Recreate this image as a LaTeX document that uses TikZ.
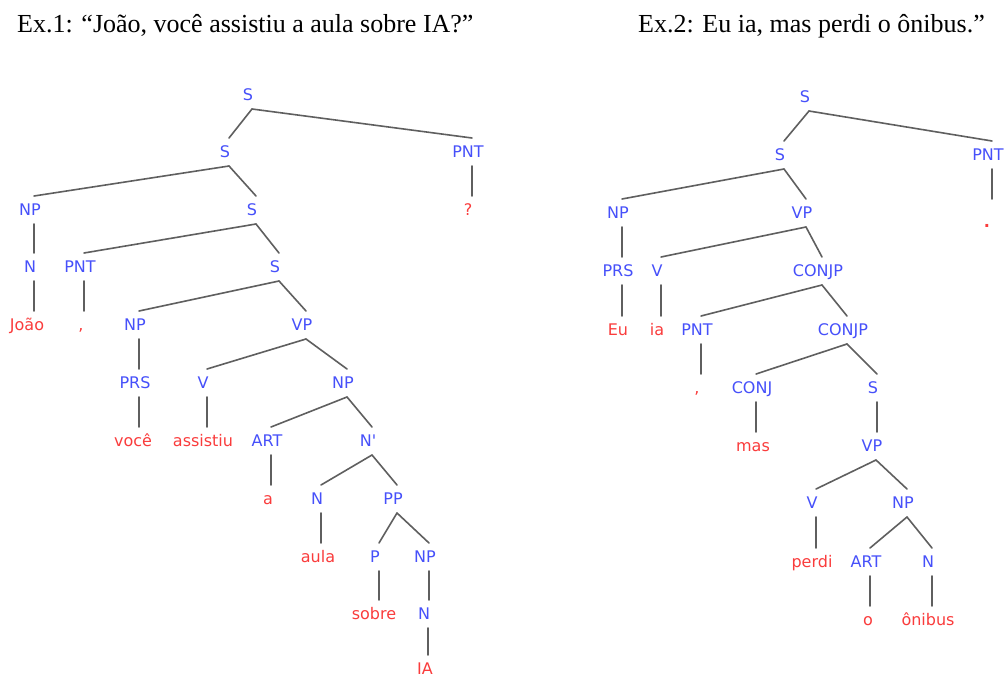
\documentclass[tikz,border=0pt]{standalone}
\usepackage{fontspec}
\setmainfont{Liberation Serif}
\newfontfamily\labfont{DejaVu Sans}
\definecolor{labblue}{RGB}{70,80,250}
\definecolor{leafred}{RGB}{250,60,60}
\definecolor{edgegray}{RGB}{95,95,95}
\tikzset{
  lab/.style={font=\labfont\fontsize{16}{18}\selectfont, inner sep=0pt, text height=11.5pt, text depth=0pt},
  cat/.style={lab, text=labblue},
  leaf/.style={lab, text=leafred},
  edge/.style={draw=edgegray, line width=1.6pt, line cap=round},
  title/.style={font=\fontsize{26}{30}\selectfont, anchor=base west, inner sep=0pt}
}
% diagonal edge
\newcommand\tedge[2]{\draw[edge] ([shift={(4,14)}]#1.center) -- ([shift={(4,-14)}]#2.center);}
% vertical edge (single child)
\newcommand\vedge[2]{\draw[edge] ([shift={(4,14)}]#1.center) -- ([shift={(4,-14)}]#1.center |- #2.center);}
\begin{document}
\begin{tikzpicture}[x=1pt,y=-1pt]
\useasboundingbox[fill=white] (0,0) rectangle (1008,677);
% titles
\node[title] (t1) at (17,33) {Ex.1: “João, você assistiu a aula sobre IA?”};
\node[title] (t2) at (638,33) {Ex.2: Eu ia, mas perdi o ônibus.”};
% ---------- tree 1 ----------
\node[cat] (aS) at (248,95) {S};
\node[cat] (aS1) at (225,152) {S};
\node[cat] (aPNT) at (468,152) {PNT};
\node[cat] (aNP) at (30,210) {NP};
\node[cat] (aS2) at (252,210) {S};
\node[leaf] (aQ) at (468,210) {?};
\node[cat] (aN) at (30,267) {N};
\node[cat] (aPNT2) at (80,267) {PNT};
\node[cat] (aS3) at (275,267) {S};
\node[leaf] (aJoao) at (27,325) {João};
\node[leaf] (aComma) at (81,325) {,};
\node[cat] (aNP2) at (135,325) {NP};
\node[cat] (aVP) at (302,325) {VP};
\node[cat] (aPRS) at (135,383) {PRS};
\node[cat] (aV) at (203,383) {V};
\node[cat] (aNP3) at (343,383) {NP};
\node[leaf] (aVoce) at (133,441) {você};
\node[leaf] (aAssistiu) at (203,441) {assistiu};
\node[cat] (aART) at (267,441) {ART};
\node[cat] (aNbar) at (368,441) {N'};
\node[leaf] (aA) at (268,499) {a};
\node[cat] (aN2) at (317,499) {N};
\node[cat] (aPP) at (393,499) {PP};
\node[leaf] (aAula) at (318,557) {aula};
\node[cat] (aP) at (375,557) {P};
\node[cat] (aNP4) at (425,557) {NP};
\node[leaf] (aSobre) at (374,614) {sobre};
\node[cat] (aN3) at (424,614) {N};
\node[leaf] (aIA) at (425,669) {IA};
\tedge{aS}{aS1} \tedge{aS}{aPNT}
\tedge{aS1}{aNP} \tedge{aS1}{aS2}
\vedge{aPNT}{aQ}
\vedge{aNP}{aN} \vedge{aN}{aJoao}
\tedge{aS2}{aPNT2} \tedge{aS2}{aS3}
\vedge{aPNT2}{aComma}
\tedge{aS3}{aNP2} \tedge{aS3}{aVP}
\vedge{aNP2}{aPRS} \vedge{aPRS}{aVoce}
\tedge{aVP}{aV} \tedge{aVP}{aNP3}
\vedge{aV}{aAssistiu}
\tedge{aNP3}{aART} \tedge{aNP3}{aNbar}
\vedge{aART}{aA}
\tedge{aNbar}{aN2} \tedge{aNbar}{aPP}
\vedge{aN2}{aAula}
\tedge{aPP}{aP} \tedge{aPP}{aNP4}
\vedge{aP}{aSobre}
\vedge{aNP4}{aN3} \vedge{aN3}{aIA}
% ---------- tree 2 ----------
\node[cat] (bS) at (805,97) {S};
\node[cat] (bS1) at (780,155) {S};
\node[cat] (bPNT) at (988,155) {PNT};
\node[cat] (bNP) at (618,213) {NP};
\node[cat] (bVP) at (802,213) {VP};
\node[leaf] (bDot) at (987,213) {\raisebox{-9pt}{\bfseries .}};
\node[cat] (bPRS) at (618,271) {PRS};
\node[cat] (bV) at (657,271) {V};
\node[cat] (bCONJP) at (818,271) {CONJP};
\node[leaf] (bEu) at (618,330) {Eu};
\node[leaf] (bIa) at (657,330) {ia};
\node[cat] (bPNT2) at (697,330) {PNT};
\node[cat] (bCONJP2) at (843,330) {CONJP};
\node[leaf] (bComma) at (697,388) {,};
\node[cat] (bCONJ) at (752,388) {CONJ};
\node[cat] (bS2) at (873,388) {S};
\node[leaf] (bMas) at (753,446) {mas};
\node[cat] (bVP2) at (872,446) {VP};
\node[cat] (bV2) at (812,503) {V};
\node[cat] (bNP2) at (903,503) {NP};
\node[leaf] (bPerdi) at (812,562) {perdi};
\node[cat] (bART) at (866,562) {ART};
\node[cat] (bN) at (928,562) {N};
\node[leaf] (bO) at (868,620) {o};
\node[leaf] (bOnibus) at (928,620) {ônibus};
\tedge{bS}{bS1} \tedge{bS}{bPNT}
\vedge{bPNT}{bDot}
\tedge{bS1}{bNP} \tedge{bS1}{bVP}
\vedge{bNP}{bPRS} \vedge{bPRS}{bEu}
\tedge{bVP}{bV} \tedge{bVP}{bCONJP}
\vedge{bV}{bIa}
\tedge{bCONJP}{bPNT2} \tedge{bCONJP}{bCONJP2}
\vedge{bPNT2}{bComma}
\tedge{bCONJP2}{bCONJ} \tedge{bCONJP2}{bS2}
\vedge{bCONJ}{bMas}
\vedge{bS2}{bVP2}
\tedge{bVP2}{bV2} \tedge{bVP2}{bNP2}
\vedge{bV2}{bPerdi}
\tedge{bNP2}{bART} \tedge{bNP2}{bN}
\vedge{bART}{bO} \vedge{bN}{bOnibus}
\end{tikzpicture}
\end{document}
